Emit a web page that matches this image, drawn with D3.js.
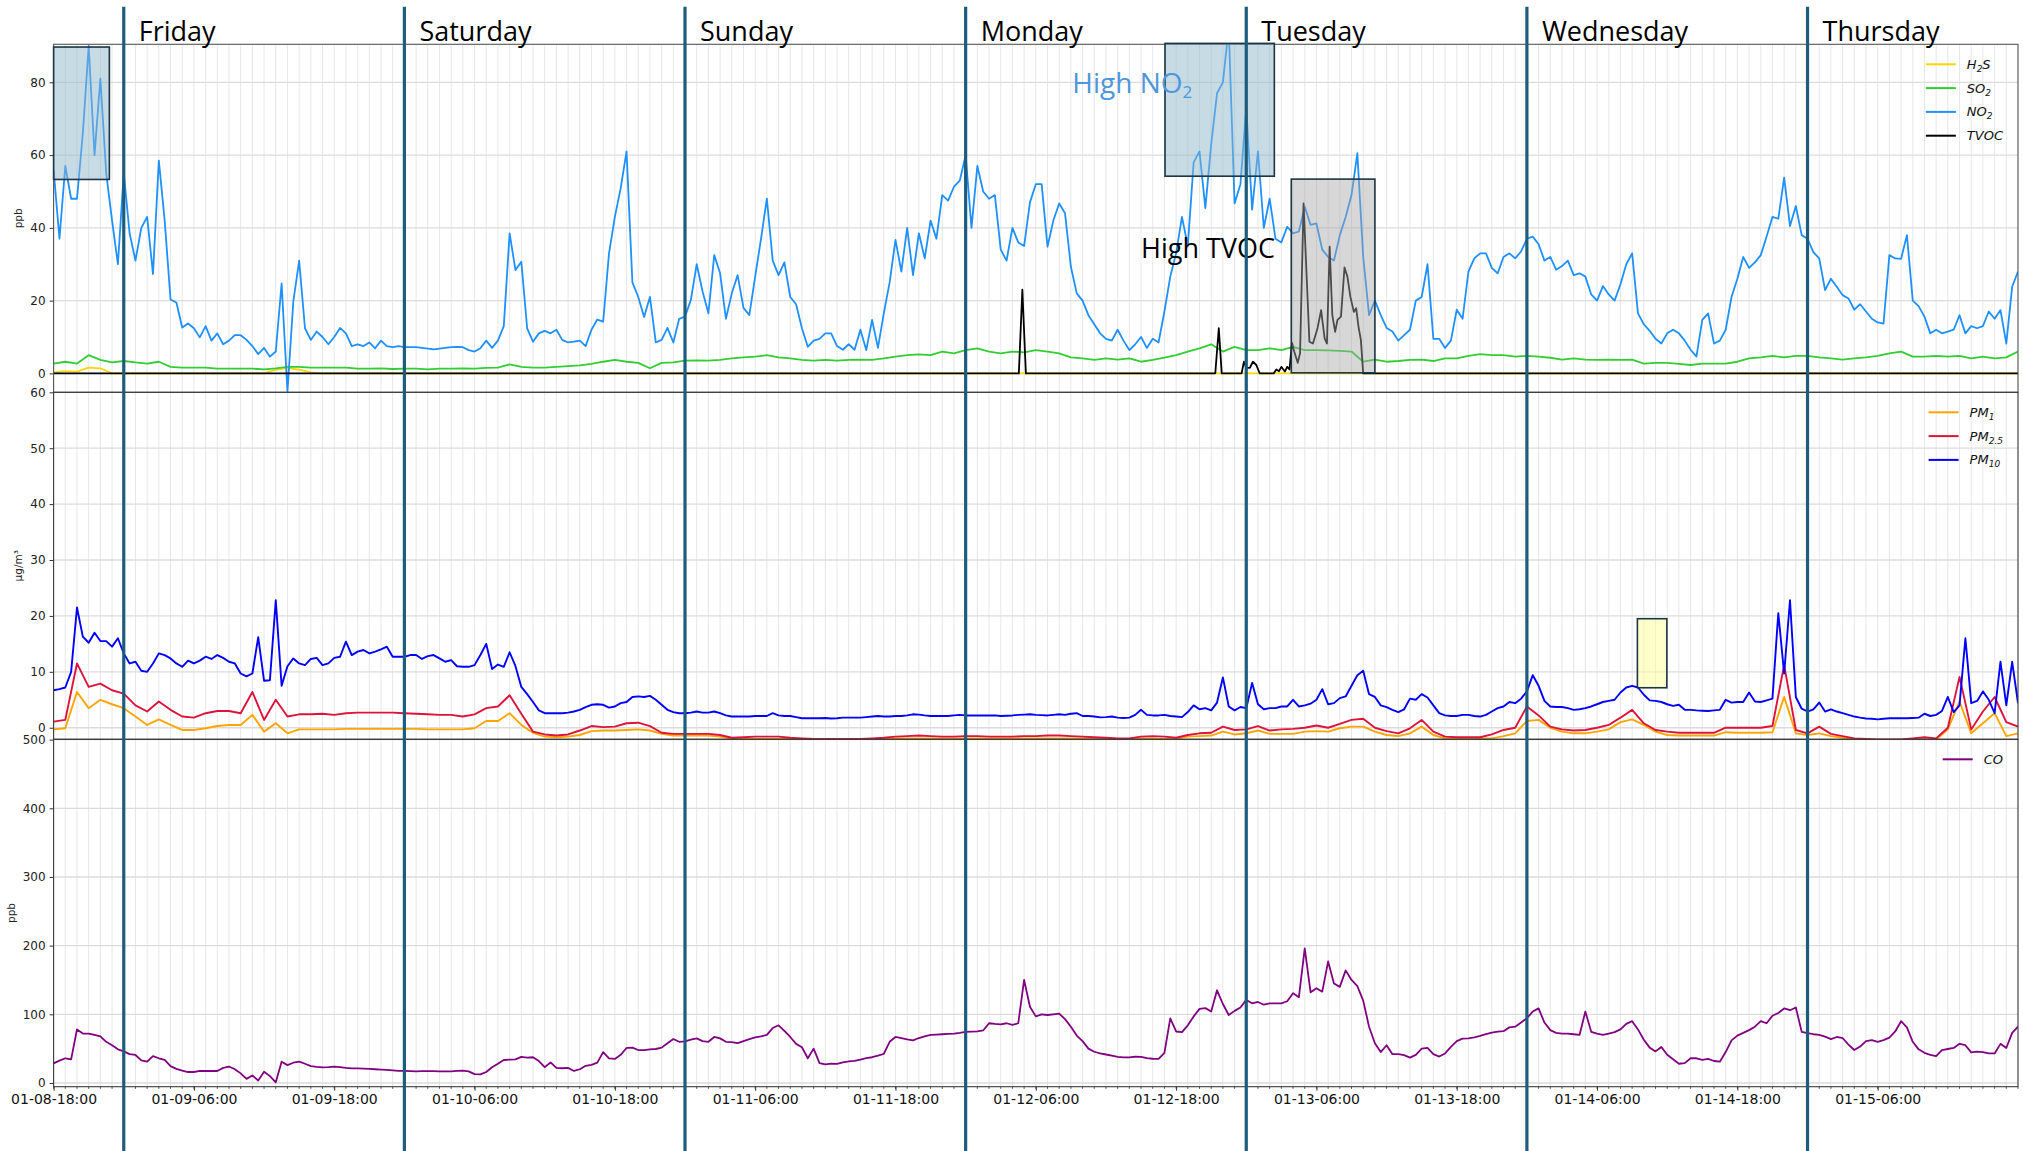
<!DOCTYPE html>
<html><head><meta charset="utf-8">
<script src="https://cdn.jsdelivr.net/npm/d3@7"></script>
<style>
html,body{margin:0;padding:0;background:#fff;}
svg{display:block;}
</style></head><body>
<svg id="chart" width="2023" height="1151"></svg>
<script>
// ---------------- DATA ----------------
const startTime = new Date(2026, 0, 8, 18, 0, 0); // 01-08 18:00
const spanHours = 168;
const halfHourStep = 0.5;
const hourlyStep = 1;

// NO2 (ppb), every 0.5 h
const no2 = [
56,37,57,48,48,66,90,60,81,55,
42,30,55,38.5,31,40,43,27.3,58.5,42,
20.3,19.5,12.6,13.7,12.4,9.9,13,9,11,8,
9,10.5,10.5,9.2,7.5,5.3,7,4.6,6,24.7,
-5,19.7,31,12.4,9.2,11.5,10,8,10,12.5,
11,7.5,8,7.5,8.5,6.9,9,7.5,7.2,7.5,
7.2,7.2,7.2,7,6.8,6.6,6.8,7,7.2,7.3,
7.2,6.4,6,6.9,9,7,9,13,38.5,28.4,
30.7,12.4,8.7,11,11.7,11,12,9.2,8.5,8.7,
9,7.5,12,14.8,14.2,33,43,50.9,61,25,
21,15.5,21,8.5,9.2,12.5,8.5,15,15.6,20.2,
30,22.5,16.5,32.5,27.5,15,22,27,18,16,
26.6,37,48,31,27,30.5,21,19,12.4,7.3,
9,9.5,11,11,7.5,6.5,8,6.5,12,6.4,
14.7,7,16.5,25,36.7,28,40,27,38.5,31.6,
42,37,49,47.5,51.3,53,60,40,57,50,
48,49,34,31,40,36,35,47,52,52,
34.8,42,46.7,44,29.3,22,20,16,13.5,11,
9.5,9,12,9,6.4,8,10,7,9.5,8.5,
17,26.6,33,43,35,58,61,45.4,63,77,
80,95,46.7,52,72.9,45,61,40,48,37,
36,40.3,38.5,39,45.8,40.8,41.2,34,32,31,
38,43,49,60.5,32,16,20,16,12.5,11.5,
9,10.5,12,20,21,30,9.5,9.5,7,9,
17.5,15,28,31.6,33,33,29,27.5,32,33,
31.6,33.5,37,37.6,35.5,31,32,28.5,29.5,31,
27,27.5,26.6,21.7,20,24,21.7,20,24.5,30,
33,16.5,13.5,11.7,9.5,8.2,11,12,11,9,
6.5,4.6,14.7,16.5,8.2,9,12,21,26,32,
29,30.5,32.5,37.6,43,42.5,53.8,40.5,46,38,
37,33.3,31.6,22.9,26,23.8,21.5,20.6,17.5,19,
17,15,14,13.7,32.5,31.6,31.5,38,20,18.5,
15.6,11,12,11,11.5,12,16,11,13,12.4,
13,17,15,17.4,8.2,23.8,28
];

// H2S and SO2 (ppb), hourly
const h2s = [
0.3,0.6,0.5,1.6,1.4,0,0,0,0,0,
0,0,0,0,0,0,0,0,0,1,
1.5,1,0.3,0,0,0,0,0,0,0,
0,0,0,0,0,0,0,0,0,0,
0,0,0,0,0,0,0,0,0,0,
0,0,0,0,0,0,0,0,0,0,
0,0,0,0,0,0,0,0,0,0,
0,0,0,0,0,0,0,0,0,0,
0,0,0,0,0,0,0,0,0,0,
0,0,0,0,0,0,0,0,0,0,
0,0,0,0,0,0,0,0,0,0,
0,0,0,0,0,0,0,0,0,0,
0,0,0,0,0,0,0,0,0,0,
0,0,0,0,0,0,0,0,0,0,
0,0,0,0,0,0,0,0,0,0,
0,0,0,0,0,0,0,0,0,0,
0,0,0,0,0,0,0,0,0
];
const so2 = [
2.7,3.2,2.7,5,3.7,3,3.4,3,2.7,3.2,
1.8,1.6,1.6,1.6,1.3,1.3,1.3,1.3,1.1,1.4,
1.8,1.8,1.6,1.6,1.6,1.6,1.3,1.3,1.4,1.2,
1.3,1.3,1.1,1.3,1.3,1.4,1.3,1.5,1.6,2.5,
1.8,1.6,1.6,1.8,2,2.2,2.6,3.2,3.7,3.2,
2.9,1.4,2.9,3,3.5,3.6,3.5,3.7,4.1,4.4,
4.6,5,4.4,4.1,3.7,3.5,3.7,3.5,3.7,3.8,
3.7,4.1,4.6,5,5.2,5,6,5.5,6.4,6.9,
6,5.5,6,5.8,6.4,6,5.5,4.4,4.1,3.7,
4.1,3.8,4.1,3.2,3.7,4.3,5,6,6.9,8,
6,7.3,6.4,6.4,6.9,6.4,7.3,6.4,6.4,6.3,
6.2,6,3.2,3.8,3.2,3.4,3.7,3.8,3.4,4.1,
4.1,4.8,5.3,5,5,4.6,4.8,4.6,4.3,3.8,
4.1,3.8,3.7,3.8,3.7,3.8,2.7,2.9,2.9,2.6,
2.3,2.7,2.7,2.7,3.2,4.1,4.4,4.8,4.4,4.8,
4.8,4.4,4.1,3.8,4.1,4.4,4.8,5.5,6,4.6,
4.6,4.8,4.6,4.8,4.1,4.6,4.1,4.4,6
];

// TVOC (ppb): irregular readings, hours after start
const tvocHours = [0,82.55,82.85,83.15,99.35,99.65,99.9,101.6,101.8,102.0,102.3,102.57,102.86,103.15,
104.34,104.57,104.8,105.0,105.3,105.5,105.7,105.91,106.1,106.4,106.6,106.9,107.4,107.7,108.0,108.1,
108.4,108.7,108.9,109.13,109.36,109.6,109.8,110.1,110.4,110.65,110.9,111.2,111.4,111.6,111.8,112.0,168];
const tvocPpb = [0,0,23,0,0,12.4,0,0,3.2,1.6,1.5,3.2,2.3,0,
0,1.1,0.6,1.8,0.5,1.8,1.1,8.4,6,2.9,5.5,46.7,8.7,8.2,11.4,12.5,
17.4,9.6,8.2,34.8,16,11.4,14.7,15.6,29.1,26.6,21.1,16.9,17.9,12.8,9.2,0,0];

// PM1 and PM2.5 (µg/m³), hourly
const pm1 = [
-0.3,-0.1,6.4,3.5,5,4.2,3.5,2,0.5,1.5,
0.5,-0.4,-0.4,-0.1,0.3,0.5,0.5,2.3,-0.7,0.8,
-1,-0.3,-0.3,-0.3,-0.3,-0.2,-0.2,-0.2,-0.2,-0.2,
-0.2,-0.2,-0.3,-0.3,-0.3,-0.3,-0.1,1.2,1.2,2.6,
0.5,-0.9,-1.6,-1.7,-1.6,-1.3,-0.6,-0.5,-0.5,-0.4,
-0.3,-0.5,-1.1,-1.4,-1.4,-1.4,-1.4,-1.6,-2,-2,
-2,-2,-2,-2,-2,-2,-2,-2,-2,-2,
-2,-2,-1.9,-1.9,-1.9,-1.9,-1.9,-1.9,-1.9,-1.9,
-1.9,-1.9,-1.9,-1.9,-1.9,-1.9,-1.9,-1.9,-1.9,-1.9,
-2,-2,-2,-1.9,-1.9,-2,-2,-1.6,-1.5,-1.4,
-0.7,-1.2,-1,-0.5,-1.1,-1.1,-1.1,-0.7,-0.6,-0.7,
-0.1,0.2,0.2,-0.7,-1.3,-1.5,-1,0.2,-1.3,-1.9,
-1.9,-1.9,-1.9,-1.9,-1.5,-1,1.2,1.4,0,-0.7,
-1,-1,-0.7,-0.3,1,1.5,0.5,-0.7,-1.3,-1.4,
-1.4,-1.4,-1.4,-0.8,-0.9,-0.9,-0.9,-0.8,5.5,-1,
-1.3,-1,-1.5,-1.8,-2.2,-2.2,-2.2,-2.2,-2.2,-2.1,
-2.1,-2.1,-0.3,4.7,-1,0.8,2.6,-1.5,-1
];
const pm25 = [
1.1,1.4,11.5,7.3,7.9,6.7,6.1,4,2.9,4.7,
3.2,2,1.8,2.6,3,3,2.6,6.4,1.4,5,
2,2.4,2.4,2.5,2.3,2.6,2.7,2.7,2.7,2.7,
2.6,2.5,2.4,2.3,2.3,2,2.4,3.5,3.8,5.8,
2.5,-0.7,-1.2,-1.4,-1.2,-0.5,0.3,0.1,0.2,0.8,
0.9,0.3,-0.9,-1.1,-1.1,-1.1,-1.1,-1.3,-1.8,-1.7,
-1.6,-1.6,-1.6,-1.8,-1.9,-2,-2,-2,-2,-2,
-1.9,-1.8,-1.6,-1.5,-1.4,-1.5,-1.6,-1.6,-1.5,-1.5,
-1.6,-1.6,-1.6,-1.5,-1.5,-1.4,-1.4,-1.5,-1.6,-1.7,
-1.8,-1.9,-1.9,-1.6,-1.5,-1.6,-1.8,-1.3,-1,-0.9,
0.2,-0.4,-0.3,0.3,-0.5,-0.3,-0.2,0,0.4,0,
0.7,1.4,1.6,0,-0.6,-1,-0.1,1.4,-0.7,-1.6,
-1.7,-1.7,-1.7,-1.2,-0.4,0,3.8,2.2,0.2,-0.3,
-0.5,-0.4,0,0.5,1.8,3.2,0.8,-0.4,-0.7,-0.9,
-0.9,-0.9,-0.9,0,0,0,0,0.3,11.2,-0.4,
-1,0.2,-1.1,-1.5,-1.9,-2,-2.1,-2.1,-2.1,-1.9,
-1.7,-1.9,0,9.1,-0.3,2.9,5.5,1,0.2
];
// PM10 (µg/m³), every 0.5 h
const pm10 = [
6.7,6.9,7.2,10,21.5,16.3,15.2,17,15.5,15.5,
14.5,16,13.3,11.5,11.8,10.2,10,11.5,13.3,13,
12.4,11.5,10.9,12,11.5,12,12.7,12.3,13,12.5,
11.8,11.5,9.7,9.2,9.7,16.2,8.4,8.5,22.8,7.5,
11,12.4,11.5,11.2,12.3,12.5,11.2,11.5,12.5,12.7,
15.4,13,13.6,13.9,13.3,13.6,14,14.5,12.7,12.7,
12.7,13,13,12.3,12.8,13,12.4,11.8,12.1,11,
10.9,10.9,11.2,13,15,10.5,11.3,10.9,13.5,11,
7.3,6,4.6,3.1,2.6,2.6,2.6,2.6,2.7,2.9,
3.2,3.7,4.1,4.2,4.1,3.6,3.8,4.4,4.6,5.5,
5.6,5.5,5.7,5,4.1,3.2,2.8,2.6,2.6,2.7,
2.9,2.7,2.7,2.9,2.6,2.2,2,2,2,2,
2.1,2.1,2.1,2.6,2.2,2.1,2.1,1.9,1.7,1.7,
1.7,1.7,1.75,1.65,1.7,1.8,1.8,1.8,1.8,1.9,
2,2.1,2,2,2.1,2.1,2.2,2.4,2.35,2.2,
2.1,2.1,2.1,2.1,2.2,2.3,2.2,2.2,2.2,2.2,
2.2,2.2,2.1,2.15,2.2,2.3,2.35,2.4,2.3,2.25,
2.2,2.3,2.4,2.3,2.5,2.6,2.1,2.1,2,1.85,
1.9,2,1.8,1.75,1.8,2.3,3.2,2.3,2.2,2.2,
2.3,2.1,2,1.9,2.8,4,3.3,3.5,3.1,4.5,
9,3.8,3.1,3.7,3.5,8,4.2,3.3,3.5,3.5,
3.8,3.8,5,3.8,4,4.3,5,6.9,4.2,4.4,
5.3,5.6,7.5,9.4,10.2,6,5.5,4,3.7,3.2,
2.8,3.3,5.2,5,6,5.4,4,2.6,2.2,2.1,
2.1,2.3,2.3,2.1,2,2.3,2.9,3.5,3.8,4.6,
4.4,5.2,6.5,9.4,7.5,4.8,3.8,3.7,3.7,3.5,
3.2,3.3,3.5,3.8,4.2,4.6,4.8,5,6.3,7.2,
7.5,7.2,5.9,4.9,4.8,4.6,4.2,3.9,4.1,3.2,
3.2,3.1,3.05,3,3.1,3.2,5,4.5,4.6,4.6,
6.3,4.7,4.6,4.9,5.2,20.5,9.7,22.8,5.5,3.4,
2.9,3.3,4.5,2.9,3.3,2.9,2.6,2.3,2,1.8,
1.65,1.6,1.5,1.6,1.7,1.7,1.7,1.7,1.75,1.8,
2.5,2.1,2.3,3,5.5,2.8,4,16,4.4,4.8,
6.5,5,2.6,11.8,4,11.8,4.4
];

// CO (ppb), every 0.5 h
const co = [
28.6,32.5,36,34.5,78,72,72,70,68,60,
55,49,46,42,40.8,33,31,39,36,33.5,
24.5,20.5,18,16,16,17.5,17.5,17.5,17.5,22,
24,20,14,6,11,3.6,16.5,10,1,31,
26,29.5,31,28,24.5,23.5,22.8,23.2,23.8,23,
22,21.4,21.2,21,20.5,20,19.5,19,18.5,17.7,
17.5,17.2,17,17.3,17.4,17.2,17,17,17,17.5,
18,17,13,12.5,16,23,28,33.5,34,34.5,
38,37,37.5,32,23,30,22,21.5,22,17.5,
20,25,26.5,29.6,45,36,35,41,51,51.5,
48,48,49,49.5,51.5,58,64,60,60.5,63,
65,61,60,67,65,60,59.5,58,61,64,
66.5,68,70,80,84,76,67,57,52,36,
50,29,27,28.3,27.8,30,31.5,32.3,34,36.2,
37.5,39.8,42.5,60,67,65.5,63.5,62,65.5,68,
70,70.5,71,71.5,72,73,74.3,74.8,75.3,76.5,
87,86,85.5,87,84.5,87,150,111,97,100,
99,100,101,93,82,69,61,50,45.5,43,
41.5,40,38,37.4,37.4,38.5,38,36.3,35.3,35,
44,94,75,74,84,97,108,109,104,135,
115,99,105,110,121,116,118,114,116,116,
116,119,130.6,125,196,132,138,133,177,145,
140,164,150,141,120,82,57.8,45,55,42,
42,40.5,37,41,50,51,42,38.5,43,52.5,
61,64.5,65,66.5,68.5,71,73.5,74.8,75.5,81,
82,88,94.5,104,108.7,88,77,73,72,72,
71,70,104,74.5,72,70,72,74,78,86,
90,78,63,51.5,46,52.5,41,34.5,28,29,
36,36,33.5,35,32,31,45,62,69,73,
77,82,90,87,98,102,108.5,106,110,74.5,
72.5,71,70,67.5,64,67,65.5,56,48,53,
61,62.3,60,62.5,66,75,90,81,60,49,
44,41,39,48,49.5,51,57,55,44.5,45.6,
44.8,43,43,57,51,73,82
];

// axis ticks
const ppbTicksTop = [0,20,40,60,80];
const pmTicks = [0,10,20,30,40,50,60];
const coTicks = [0,100,200,300,400,500];
const xTickHours = [0,12,24,36,48,60,72,84,96,108,120,132,144,156];

// day separators (hours after start) and names
const dayStartHours = [6,30,54,78,102,126,150];
const dayNames = ["Friday","Saturday","Sunday","Monday","Tuesday","Wednesday","Thursday"];

// highlighted periods: [startHour, endHour, lowValue, highValue]
const no2Highlight1 = [0, 4.77, 53.3, 89.7];
const no2Highlight2 = [95.05, 104.4, 54.2, 90.7];
const tvocHighlight = [105.85, 113.0, 0.15, 53.4];
const pmHighlight = [135.45, 137.97, 7.15, 19.5];

// annotation anchors: [hour, value]
const no2NoteAnchor = [87.12, 77];
const tvocNoteAnchor = [93.0, 31.6];

// ---------------- DRAWING ----------------
const HOUR = 3600e3;
const svg = d3.select("#chart");
const W = 2023, H = 1151;
const left = 53.6, right = 2018;
const atHour = h => new Date(+startTime + h * HOUR);

const x = d3.scaleTime().domain([startTime, atHour(spanHours)]).range([left, right]);

const panels = [
  {top: 44.3, bottom: 392.3, domain: [-5.2, 90.45], ticks: ppbTicksTop, label: "ppb"},
  {top: 392.3, bottom: 739.3, domain: [-2.07, 60], ticks: pmTicks, label: "μg/m³"},
  {top: 739.3, bottom: 1086.7, domain: [-5.4, 500.5], ticks: coTicks, label: "ppb"}
];
panels.forEach(p => { p.y = d3.scaleLinear().domain(p.domain).range([p.bottom, p.top]); });

const defs = svg.append("defs");
panels.forEach((p, i) => {
  defs.append("clipPath").attr("id", "clip" + i)
    .append("rect").attr("x", left).attr("y", p.top).attr("width", right - left).attr("height", p.bottom - p.top);
});

const fontSans = "'DejaVu Sans', sans-serif";
const hourTicks = d3.range(0, spanHours + 1, 1).map(atHour);

// grids
panels.forEach((p, i) => {
  const g = svg.append("g").attr("clip-path", `url(#clip${i})`);
  g.selectAll("line.vg").data(hourTicks).join("line")
    .attr("x1", d => x(d)).attr("x2", d => x(d)).attr("y1", p.top).attr("y2", p.bottom)
    .attr("stroke", "#e4e4e4").attr("stroke-width", 0.9);
  g.selectAll("line.hg").data(p.ticks).join("line")
    .attr("x1", left).attr("x2", right).attr("y1", d => p.y(d)).attr("y2", d => p.y(d))
    .attr("stroke", "#dcdcdc").attr("stroke-width", 1.3);
});

function regular(values, step) { return values.map((v, i) => ({date: atHour(i * step), v})); }
function drawLine(panelIdx, data, color, width) {
  const p = panels[panelIdx];
  const line = d3.line().x(d => x(d.date)).y(d => p.y(d.v));
  svg.append("path").attr("clip-path", `url(#clip${panelIdx})`)
    .datum(data).attr("d", line).attr("fill", "none")
    .attr("stroke", color).attr("stroke-width", width).attr("stroke-linejoin", "round");
}

// panel 1
drawLine(0, regular(h2s, hourlyStep), "#FFD700", 1.8);
drawLine(0, regular(so2, hourlyStep), "#32CD32", 1.8);
drawLine(0, regular(no2, halfHourStep), "#1E90FF", 1.8);
drawLine(0, tvocHours.map((h, i) => ({date: atHour(h), v: tvocPpb[i]})), "#000000", 1.8);
// panel 2
drawLine(1, regular(pm1, hourlyStep), "#FFA500", 1.9);
drawLine(1, regular(pm25, hourlyStep), "#DC143C", 1.9);
drawLine(1, regular(pm10, halfHourStep), "#0000FF", 1.9);
// panel 3
drawLine(2, regular(co, halfHourStep), "#800080", 1.8);

// axes, spines
panels.forEach((p, i) => {
  const ax = svg.append("g").attr("transform", `translate(${left},0)`)
    .call(d3.axisLeft(p.y).tickValues(p.ticks).tickSize(4).tickPadding(4).tickFormat(d3.format("d")));
  ax.select(".domain").remove();
  ax.selectAll("text").attr("font-family", fontSans).attr("font-size", 12).attr("fill", "#222");
  ax.selectAll("line").attr("stroke", "#333");
  const bb = ax.node().getBBox();
  svg.append("text").text(p.label)
    .attr("transform", `translate(${left + bb.x - 8},${(p.top + p.bottom) / 2}) rotate(-90)`)
    .attr("text-anchor", "middle").attr("font-family", fontSans).attr("font-size", 10.5).attr("fill", "#222");
  svg.append("rect").attr("x", left).attr("y", p.top).attr("width", right - left).attr("height", p.bottom - p.top)
    .attr("fill", "none").attr("stroke", i === 0 ? "#555" : "#3a3a3a").attr("stroke-width", 1.1);
});

// x axis
const p3 = panels[2];
const xa = svg.append("g").attr("transform", `translate(0,${p3.bottom})`)
  .call(d3.axisBottom(x).tickValues(xTickHours.map(atHour)).tickSize(4).tickPadding(3)
    .tickFormat(d3.timeFormat("%m-%d-%H:%M")));
xa.select(".domain").remove();
xa.selectAll("text").attr("font-family", fontSans).attr("font-size", 14).attr("fill", "#111");
xa.selectAll("line").attr("stroke", "#333");
svg.append("g").selectAll("line").data(hourTicks).join("line")
  .attr("x1", d => x(d)).attr("x2", d => x(d)).attr("y1", p3.bottom).attr("y2", p3.bottom + 2.2)
  .attr("stroke", "#333").attr("stroke-width", 0.8);

// legends
function legend(panelIdx, items) {
  const p = panels[panelIdx];
  const g = svg.append("g");
  items.forEach((it, i) => {
    const yy = p.top + 20 + i * 23.8;
    const t = g.append("text").attr("x", 0).attr("y", yy + 4.5)
      .attr("font-family", fontSans).attr("font-style", "italic").attr("font-size", 13).attr("fill", "#111");
    it.parts.forEach(([s, kind]) => {
      if (kind === "sub") t.append("tspan").attr("font-size", 9).attr("dy", 3).text(s);
      else if (kind === "after") t.append("tspan").attr("dy", -3).text(s);
      else t.append("tspan").text(s);
    });
    it.node = t; it.yy = yy;
  });
  const maxW = d3.max(items, it => it.node.node().getComputedTextLength());
  const tx = 2003 - maxW;
  items.forEach(it => {
    it.node.attr("x", tx);
    g.append("line").attr("x1", tx - 41).attr("x2", tx - 11).attr("y1", it.yy).attr("y2", it.yy)
      .attr("stroke", it.color).attr("stroke-width", 2);
  });
}
legend(0, [
  {color: "#FFD700", parts: [["H"], ["2", "sub"], ["S", "after"]]},
  {color: "#32CD32", parts: [["SO"], ["2", "sub"]]},
  {color: "#1E90FF", parts: [["NO"], ["2", "sub"]]},
  {color: "#000000", parts: [["TVOC"]]}
]);
legend(1, [
  {color: "#FFA500", parts: [["PM"], ["1", "sub"]]},
  {color: "#DC143C", parts: [["PM"], ["2.5", "sub"]]},
  {color: "#0000FF", parts: [["PM"], ["10", "sub"]]}
]);
legend(2, [{color: "#800080", parts: [["CO"]]}]);

// highlight boxes
function box(panelIdx, b, fill, opacity) {
  const p = panels[panelIdx];
  svg.append("rect").attr("x", x(atHour(b[0]))).attr("y", p.y(b[3]))
    .attr("width", x(atHour(b[1])) - x(atHour(b[0]))).attr("height", p.y(b[2]) - p.y(b[3]))
    .attr("fill", fill).attr("fill-opacity", opacity)
    .attr("stroke", "#1c3444").attr("stroke-width", 1.6);
}
box(0, no2Highlight1, "#8fb8cc", 0.5);
box(0, no2Highlight2, "#8fb8cc", 0.5);
box(0, tvocHighlight, "#a6a6a6", 0.45);
box(1, pmHighlight, "#ffff99", 0.5);

// annotations
const fontDisplay = "'Open Sans', 'Noto Sans', sans-serif";
const n1 = svg.append("text").attr("x", x(atHour(no2NoteAnchor[0]))).attr("y", panels[0].y(no2NoteAnchor[1]))
  .attr("font-family", fontDisplay).attr("font-size", 28).attr("fill", "#4e97dc");
n1.append("tspan").text("High NO");
n1.append("tspan").attr("font-size", 17).attr("dy", 5).text("2");
svg.append("text").attr("x", x(atHour(tvocNoteAnchor[0]))).attr("y", panels[0].y(tvocNoteAnchor[1]))
  .attr("font-family", fontDisplay).attr("font-size", 27).attr("fill", "#000").text("High TVOC");

// day separators and names
const dayG = svg.append("g");
dayG.selectAll("line").data(dayStartHours).join("line")
  .attr("x1", d => x(atHour(d))).attr("x2", d => x(atHour(d))).attr("y1", 6.7).attr("y2", H)
  .attr("stroke", "#1d5c7c").attr("stroke-width", 3.2);
dayG.selectAll("text").data(dayStartHours).join("text")
  .attr("x", d => x(atHour(d)) + 15).attr("y", 40.5)
  .attr("font-family", fontDisplay).attr("font-size", 27).attr("fill", "#000")
  .text((d, i) => dayNames[i]);
</script></body></html>
